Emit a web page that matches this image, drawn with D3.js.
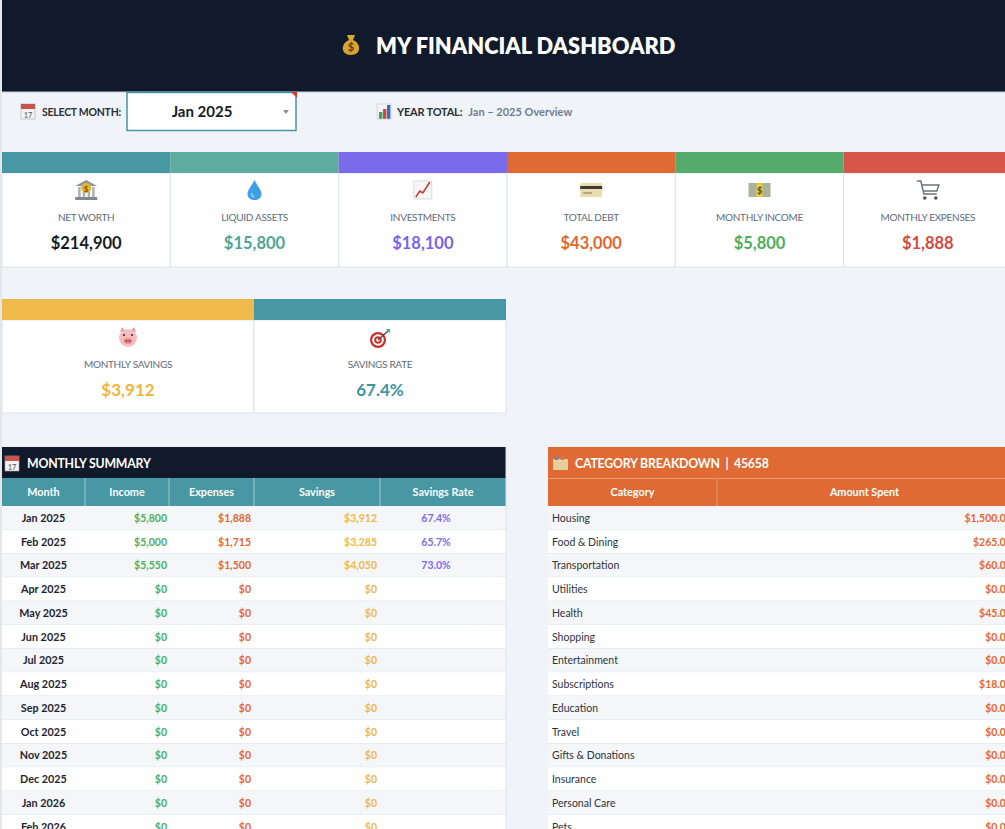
<!DOCTYPE html>
<meta charset="utf-8">
<title>My Financial Dashboard</title>
<style>

body {
  margin: 0;
  background: #f0f3f7;
  overflow: hidden;
}

svg {
  display: block;
  font-family: Lato, "Open Sans", sans-serif;
}

</style>
<body>
<script src="https://d3js.org/d3.v7.min.js"></script>
<script>

const width = 1005;
const height = 829;

// ---- data ----
const selectedMonth = "Jan 2025";
const yearTotalText = "Jan \u2013 2025 Overview";
const categorySerial = "45658";

const kpiLabels = ["NET WORTH", "LIQUID ASSETS", "INVESTMENTS", "TOTAL DEBT", "MONTHLY INCOME", "MONTHLY EXPENSES"];
const kpiValues = [214900, 15800, 18100, 43000, 5800, 1888];

const savingsLabels = ["MONTHLY SAVINGS", "SAVINGS RATE"];
const savingsValues = [3912, 0.674];

const summaryColumns = ["Month", "Income", "Expenses", "Savings", "Savings Rate"];
const months = ["Jan 2025", "Feb 2025", "Mar 2025", "Apr 2025", "May 2025", "Jun 2025", "Jul 2025",
                "Aug 2025", "Sep 2025", "Oct 2025", "Nov 2025", "Dec 2025", "Jan 2026", "Feb 2026"];
const income   = [5800, 5000, 5550, 0, 0, 0, 0, 0, 0, 0, 0, 0, 0, 0];
const expenses = [1888, 1715, 1500, 0, 0, 0, 0, 0, 0, 0, 0, 0, 0, 0];
const savings  = [3912, 3285, 4050, 0, 0, 0, 0, 0, 0, 0, 0, 0, 0, 0];
const rates    = [0.674, 0.657, 0.730, null, null, null, null, null, null, null, null, null, null, null];

const categoryColumns = ["Category", "Amount Spent"];
const categories = ["Housing", "Food & Dining", "Transportation", "Utilities", "Health", "Shopping",
                    "Entertainment", "Subscriptions", "Education", "Travel", "Gifts & Donations",
                    "Insurance", "Personal Care", "Pets"];
const amounts = [1500, 265, 60, 0, 45, 0, 0, 18, 0, 0, 0, 0, 0, 0];

// ---- look ----
const navy = "#101a2a";
const teal = "#4797a4";
const orange = "#e06a33";
const lineCol = "#dde3ea";
const stripe = "#f4f6f9";
const kpiBar = ["#4797a4", "#5eaba0", "#7b6bea", "#e06a33", "#55ab6b", "#d6564a"];
const kpiInk = ["#151b25", "#4ea596", "#7a62ee", "#e3672d", "#4fae5c", "#d5493f"];
const kpiIcon = ["bank", "drop", "chart", "card", "cash", "cart"];
const savBar = ["#efb94c", "#4797a4"];
const savInk = ["#f1b43c", "#3e94a2"];
const savIcon = ["pig", "target"];
const cIncome = "#4fae5c", cExp = "#e8662c", cSav = "#f2b83f", cRate = "#7c6cf0";

const money = d3.format("$,.0f");
const money2 = d3.format("$,.2f");
const pct = d3.format(".1%");

const svg = d3.select("body").append("svg")
    .attr("width", width)
    .attr("height", height);

// small hand-drawn icons (no emoji font available)
function icon(sel, type, cx, cy) {
  const g = sel.append("g").attr("transform", "translate(" + cx + "," + cy + ")");
  if (type === "bag") {
    g.append("path").attr("d", "M-4,-10 L4,-10 L2,-5 C10,-2 11,10 0,10 C-11,10 -10,-2 -2,-5 Z").attr("fill", "#d9a532");
    g.append("text").attr("y", 6).attr("text-anchor", "middle").attr("font-size", 11).attr("font-weight", 700).attr("fill", "#5a3d07").text("$");
  } else if (type === "calendar") {
    g.append("rect").attr("x", -7).attr("y", -7).attr("width", 14).attr("height", 15).attr("fill", "#f3f3f3").attr("stroke", "#aaa").attr("stroke-width", 0.6);
    g.append("rect").attr("x", -7).attr("y", -7).attr("width", 14).attr("height", 5).attr("fill", "#c9544b");
    g.append("text").attr("y", 7).attr("text-anchor", "middle").attr("font-size", 7.5).attr("fill", "#555").text("17");
  } else if (type === "bars") {
    [["#3aa654", -5, 7], ["#d8443a", -1, 10], ["#2f6fd0", 3, 14]].forEach(b => {
      g.append("rect").attr("x", b[1]).attr("y", 7 - b[2]).attr("width", 3.4).attr("height", b[2]).attr("fill", b[0]);
    });
    g.append("rect").attr("x", -7).attr("y", -8).attr("width", 14).attr("height", 15).attr("fill", "none").attr("stroke", "#ccc").attr("stroke-width", 0.6);
  } else if (type === "bank") {
    g.append("path").attr("d", "M-11,-4 L0,-10 L11,-4 Z").attr("fill", "#8d969e");
    [-8, -3.5, 1.5, 6].forEach(x => g.append("rect").attr("x", x).attr("y", -3).attr("width", 2.5).attr("height", 10).attr("fill", "#a9b1b8"));
    g.append("rect").attr("x", -11).attr("y", 7).attr("width", 22).attr("height", 3).attr("fill", "#7f888f");
    g.append("circle").attr("cy", -2).attr("r", 5).attr("fill", "#e8b62e");
    g.append("text").attr("y", 1.5).attr("text-anchor", "middle").attr("font-size", 8).attr("font-weight", 700).attr("fill", "#7a5500").text("$");
  } else if (type === "drop") {
    g.append("path").attr("d", "M0,-10 C3,-4 7,0 7,4 C7,8 3.5,10 0,10 C-3.5,10 -7,8 -7,4 C-7,0 -3,-4 0,-10 Z").attr("fill", "#3f9fe6");
    g.append("path").attr("d", "M-3,3 C-3,6 -1,7 0,7").attr("stroke", "#bfe2ff").attr("fill", "none").attr("stroke-width", 1.2);
  } else if (type === "chart") {
    g.append("rect").attr("x", -9).attr("y", -9).attr("width", 18).attr("height", 18).attr("fill", "#f7f7f7").attr("stroke", "#cfcfcf").attr("stroke-width", 0.7);
    g.append("path").attr("d", "M-7,7 L-3,1 L0,3 L7,-8").attr("stroke", "#d23a2e").attr("fill", "none").attr("stroke-width", 1.6);
  } else if (type === "card") {
    g.append("rect").attr("x", -11).attr("y", -7).attr("width", 22).attr("height", 14).attr("rx", 1.5).attr("fill", "#e9dcae");
    g.append("rect").attr("x", -11).attr("y", -4).attr("width", 22).attr("height", 3).attr("fill", "#3b3a36");
    g.append("rect").attr("x", -8).attr("y", 2).attr("width", 9).attr("height", 2).attr("fill", "#b7a77a");
  } else if (type === "cash") {
    g.append("rect").attr("x", -11).attr("y", -7).attr("width", 22).attr("height", 14).attr("fill", "#a8b39a");
    g.append("rect").attr("x", -3).attr("y", -7).attr("width", 6).attr("height", 14).attr("fill", "#f1c73c");
    g.append("text").attr("y", 3.5).attr("text-anchor", "middle").attr("font-size", 9).attr("font-weight", 700).attr("fill", "#4a4a2a").text("$");
  } else if (type === "cart") {
    g.append("path").attr("d", "M-11,-9 L-7,-9 L-4,4 L9,4 M-6,-5 L11,-5 L9,1 L-4.5,1").attr("stroke", "#6f747a").attr("fill", "none").attr("stroke-width", 1.5);
    g.append("circle").attr("cx", -3).attr("cy", 8).attr("r", 1.8).attr("fill", "#555");
    g.append("circle").attr("cx", 8).attr("cy", 8).attr("r", 1.8).attr("fill", "#555");
  } else if (type === "pig") {
    g.append("path").attr("d", "M-8,-6 L-6,-11 L-3,-7 Z M8,-6 L6,-11 L3,-7 Z").attr("fill", "#e89a9e");
    g.append("circle").attr("r", 9).attr("fill", "#f6bcbf");
    g.append("ellipse").attr("cy", 3).attr("rx", 4.5).attr("ry", 3).attr("fill", "#e88f95");
    g.append("circle").attr("cx", -1.5).attr("cy", 3).attr("r", 0.9).attr("fill", "#7a3036");
    g.append("circle").attr("cx", 1.5).attr("cy", 3).attr("r", 0.9).attr("fill", "#7a3036");
    g.append("circle").attr("cx", -4).attr("cy", -3).attr("r", 1.1).attr("fill", "#333");
    g.append("circle").attr("cx", 4).attr("cy", -3).attr("r", 1.1).attr("fill", "#333");
  } else if (type === "target") {
    [[8, "#c9302c"], [5.8, "#fff"], [3.8, "#c9302c"], [1.8, "#fff"]].forEach(c =>
      g.append("circle").attr("cx", -2).attr("cy", 2).attr("r", c[0]).attr("fill", c[1]));
    g.append("path").attr("d", "M-2,2 L8,-7").attr("stroke", "#444").attr("stroke-width", 1.2);
    g.append("path").attr("d", "M6,-9 L10,-9 L10,-5 Z").attr("fill", "#37a7c4");
  } else if (type === "box") {
    g.append("rect").attr("x", -7).attr("y", -4).attr("width", 15).attr("height", 11).attr("fill", "#e7cf9d");
    g.append("rect").attr("x", -5).attr("y", -7).attr("width", 3).attr("height", 4).attr("fill", "#6a84c9");
    g.append("rect").attr("x", 1).attr("y", -7).attr("width", 3).attr("height", 4).attr("fill", "#d9716a");
  }
  return g;
}

// ---- left grid strip ----
svg.append("rect").attr("x", 0).attr("y", 0).attr("width", 2).attr("height", height).attr("fill", "#e4e6ea");

// ---- title bar ----
svg.append("rect").attr("x", 2).attr("y", 0).attr("width", width - 2).attr("height", 92).attr("fill", navy);
svg.append("line").attr("x1", 2).attr("x2", width).attr("y1", 92).attr("y2", 92).attr("stroke", "#c7ced6");
icon(svg, "bag", 351, 45);
svg.append("text")
    .attr("x", 376).attr("y", 54)
    .attr("font-size", 21.8).attr("font-weight", 800).attr("fill", "#fff")
    .text("MY FINANCIAL DASHBOARD");

// ---- month selector row ----
icon(svg, "calendar", 28, 111);
svg.append("text").attr("x", 42).attr("y", 116)
    .attr("font-size", 10.5).attr("letter-spacing", -0.25).attr("font-weight", 700).attr("fill", "#2b2f36")
    .text("SELECT MONTH:");
svg.append("rect").attr("x", 127).attr("y", 92.5).attr("width", 169).attr("height", 38)
    .attr("fill", "#fff").attr("stroke", teal).attr("stroke-width", 1.5);
svg.append("text").attr("x", 202).attr("y", 117)
    .attr("text-anchor", "middle").attr("font-size", 15).attr("font-weight", 700).attr("fill", "#151b25")
    .text(selectedMonth);
svg.append("path").attr("d", "M283,110 L289,110 L286,114 Z").attr("fill", "#8a8f96");
svg.append("path").attr("d", "M291,92 L297,92 L297,98 Z").attr("fill", "#d2372e");

icon(svg, "bars", 384, 112);
const yt = svg.append("text").attr("x", 397).attr("y", 116).attr("font-size", 11).attr("font-weight", 700);
yt.append("tspan").attr("fill", "#2b2f36").attr("letter-spacing", -0.2).text("YEAR TOTAL:");
yt.append("tspan").attr("dx", 6).attr("fill", "#6f7d92").text(yearTotalText);

// ---- KPI cards ----
const xKpi = d3.scaleBand().domain(d3.range(kpiLabels.length)).range([2, 1012]);
const kpi = svg.selectAll("g.kpi")
  .data(kpiLabels)
  .enter().append("g")
    .attr("class", "kpi")
    .attr("transform", (d, i) => "translate(" + xKpi(i) + ",0)");
kpi.append("rect").attr("y", 173).attr("width", xKpi.bandwidth()).attr("height", 94)
    .attr("fill", "#fff").attr("stroke", lineCol);
kpi.append("rect").attr("y", 152).attr("width", xKpi.bandwidth()).attr("height", 21)
    .attr("fill", (d, i) => kpiBar[i]);
kpi.each(function(d, i) { icon(d3.select(this), kpiIcon[i], xKpi.bandwidth() / 2, 190); });
kpi.append("text").attr("x", xKpi.bandwidth() / 2).attr("y", 221)
    .attr("text-anchor", "middle").attr("font-size", 10).attr("letter-spacing", -0.3).attr("fill", "#5f6b7d")
    .text(d => d);
kpi.append("text").attr("x", xKpi.bandwidth() / 2).attr("y", 248.5)
    .attr("text-anchor", "middle").attr("font-size", 16.5).attr("font-weight", 700)
    .attr("fill", (d, i) => kpiInk[i])
    .text((d, i) => money(kpiValues[i]));

// ---- savings cards ----
const xSav = d3.scaleBand().domain(d3.range(savingsLabels.length)).range([2, 506]);
const sav = svg.selectAll("g.sav")
  .data(savingsLabels)
  .enter().append("g")
    .attr("class", "sav")
    .attr("transform", (d, i) => "translate(" + xSav(i) + ",0)");
sav.append("rect").attr("y", 320).attr("width", xSav.bandwidth()).attr("height", 93)
    .attr("fill", "#fff").attr("stroke", lineCol);
sav.append("rect").attr("y", 299).attr("width", xSav.bandwidth()).attr("height", 21)
    .attr("fill", (d, i) => savBar[i]);
sav.each(function(d, i) { icon(d3.select(this), savIcon[i], xSav.bandwidth() / 2, 338); });
sav.append("text").attr("x", xSav.bandwidth() / 2).attr("y", 368)
    .attr("text-anchor", "middle").attr("font-size", 10).attr("letter-spacing", -0.3).attr("fill", "#5f6b7d")
    .text(d => d);
sav.append("text").attr("x", xSav.bandwidth() / 2).attr("y", 396)
    .attr("text-anchor", "middle").attr("font-size", 17).attr("font-weight", 700)
    .attr("fill", (d, i) => savInk[i])
    .text((d, i) => i === 0 ? money(savingsValues[i]) : pct(savingsValues[i]));

// ---- monthly summary table ----
const rowH = 23.75;
const ySum = d3.scaleBand().domain(months).range([506, 506 + months.length * rowH]);
const colEdges = [2, 85, 169, 254, 380, 506];

svg.append("rect").attr("x", 2).attr("y", 447).attr("width", 504).attr("height", 31).attr("fill", navy);
icon(svg, "calendar", 12, 463);
svg.append("text").attr("x", 27).attr("y", 468)
    .attr("font-size", 12.3).attr("letter-spacing", -0.2).attr("font-weight", 700).attr("fill", "#fff")
    .text("MONTHLY SUMMARY");
svg.append("rect").attr("x", 2).attr("y", 478).attr("width", 504).attr("height", 28).attr("fill", teal);
svg.selectAll("line.sumdiv")
  .data(colEdges.slice(1, -1))
  .enter().append("line")
    .attr("x1", d => d).attr("x2", d => d).attr("y1", 478).attr("y2", 506)
    .attr("stroke", "#9fcad1");
svg.selectAll("text.sumhead")
  .data(summaryColumns)
  .enter().append("text")
    .attr("x", (d, i) => (colEdges[i] + colEdges[i + 1]) / 2)
    .attr("y", 496)
    .attr("text-anchor", "middle").attr("font-size", 10.8).attr("font-weight", 700).attr("fill", "#fff")
    .text(d => d);

const sumRow = svg.selectAll("g.sumrow")
  .data(months)
  .enter().append("g")
    .attr("class", "sumrow")
    .attr("transform", d => "translate(0," + ySum(d) + ")");
sumRow.append("rect").attr("x", 2).attr("width", 504).attr("height", ySum.bandwidth())
    .attr("fill", (d, i) => i % 2 ? "#fff" : stripe);
sumRow.append("line").attr("x1", 2).attr("x2", 506).attr("y1", ySum.bandwidth()).attr("y2", ySum.bandwidth())
    .attr("stroke", lineCol);
const ty = ySum.bandwidth() / 2 + 4;
sumRow.append("text").attr("x", 43.5).attr("y", ty)
    .attr("text-anchor", "middle").attr("font-size", 10.8).attr("font-weight", 700).attr("fill", "#1f2530")
    .text(d => d);
sumRow.append("text").attr("x", 167).attr("y", ty)
    .attr("text-anchor", "end").attr("font-size", 10.5).attr("font-weight", 700).attr("fill", cIncome)
    .text((d, i) => money(income[i]));
sumRow.append("text").attr("x", 251).attr("y", ty)
    .attr("text-anchor", "end").attr("font-size", 10.5).attr("font-weight", 700).attr("fill", cExp)
    .text((d, i) => money(expenses[i]));
sumRow.append("text").attr("x", 377).attr("y", ty)
    .attr("text-anchor", "end").attr("font-size", 10.5).attr("font-weight", 700).attr("fill", cSav)
    .text((d, i) => money(savings[i]));
sumRow.append("text").attr("x", 436).attr("y", ty)
    .attr("text-anchor", "middle").attr("font-size", 10.5).attr("font-weight", 700).attr("fill", cRate)
    .text((d, i) => rates[i] == null ? "" : pct(rates[i]));
svg.append("line").attr("x1", 506).attr("x2", 506).attr("y1", 447).attr("y2", height).attr("stroke", lineCol);

// ---- category breakdown table ----
const yCat = d3.scaleBand().domain(categories).range([506, 506 + categories.length * rowH]);
const catEdges = [548, 717, 1012];

svg.append("rect").attr("x", 548).attr("y", 447).attr("width", width - 548).attr("height", 31).attr("fill", orange);
icon(svg, "box", 560, 463);
svg.append("text").attr("x", 575).attr("y", 468)
    .attr("font-size", 12.3).attr("letter-spacing", -0.2).attr("font-weight", 700).attr("fill", "#fff")
    .attr("xml:space", "preserve")
    .text("CATEGORY BREAKDOWN  |  " + categorySerial);
svg.append("rect").attr("x", 548).attr("y", 478).attr("width", width - 548).attr("height", 28).attr("fill", orange);
svg.append("line").attr("x1", 548).attr("x2", width).attr("y1", 478.5).attr("y2", 478.5).attr("stroke", "#eb9a72");
svg.append("line").attr("x1", 717).attr("x2", 717).attr("y1", 478).attr("y2", 506).attr("stroke", "#eb9a72");
svg.selectAll("text.cathead")
  .data(categoryColumns)
  .enter().append("text")
    .attr("x", (d, i) => (catEdges[i] + catEdges[i + 1]) / 2)
    .attr("y", 496)
    .attr("text-anchor", "middle").attr("font-size", 10.8).attr("font-weight", 700).attr("fill", "#fff")
    .text(d => d);

const catRow = svg.selectAll("g.catrow")
  .data(categories)
  .enter().append("g")
    .attr("class", "catrow")
    .attr("transform", d => "translate(0," + yCat(d) + ")");
catRow.append("rect").attr("x", 548).attr("width", width - 548).attr("height", yCat.bandwidth())
    .attr("fill", (d, i) => i % 2 ? "#fff" : stripe);
catRow.append("line").attr("x1", 548).attr("x2", width).attr("y1", yCat.bandwidth()).attr("y2", yCat.bandwidth())
    .attr("stroke", lineCol);
catRow.append("text").attr("x", 552).attr("y", ty)
    .attr("font-size", 10.5).attr("fill", "#2e333b")
    .text(d => d);
catRow.append("text").attr("x", 1012).attr("y", ty)
    .attr("text-anchor", "end").attr("font-size", 10.5).attr("font-weight", 700).attr("fill", cExp)
    .text((d, i) => money2(amounts[i]));

</script>
</body>
